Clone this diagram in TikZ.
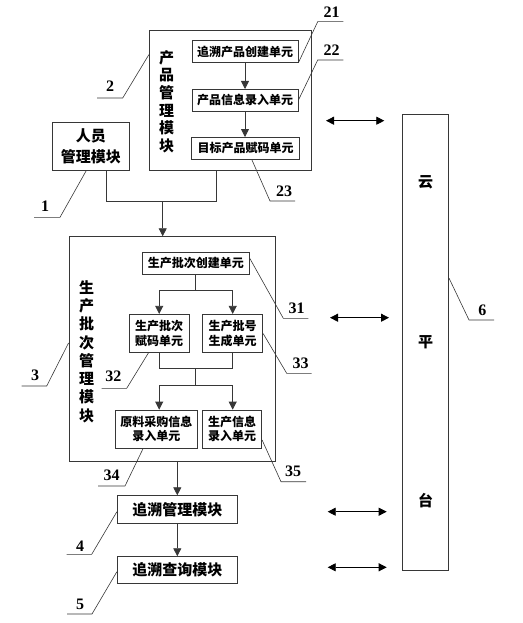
\documentclass[tikz,border=0pt]{standalone}
\usepackage{fontspec}
\newfontfamily\cjk{Noto Sans CJK SC}
\newfontfamily\numf{Liberation Serif}
\usetikzlibrary{arrows.meta}
\definecolor{linec}{RGB}{55,55,55}
\begin{document}
\begin{tikzpicture}[x=1pt,y=-1pt,
  outer/.style={draw=linec, line width=0.8pt, inner sep=0pt, align=center,
    font=\cjk\bfseries\fontsize{15}{21}\selectfont},
  unit/.style={draw=linec, line width=0.8pt, inner sep=0pt, align=center,
    font=\cjk\bfseries\fontsize{12}{14.3}\selectfont},
  vtext/.style={inner sep=0pt, align=center},
  num/.style={inner sep=0pt, font=\numf\bfseries\fontsize{16}{16}\selectfont},
  conn/.style={draw=linec, line width=0.8pt},
  arr/.style={draw=linec, line width=0.8pt, -{Triangle[length=8pt,width=8pt]}},
  darr/.style={draw=black, line width=0.8pt, {Triangle[length=8pt,width=8pt]}-{Triangle[length=8pt,width=8pt]}},
  lead/.style={draw=linec, line width=0.6pt}]
\useasboundingbox (0,0) rectangle (522,623);

% product management module
\node[outer, minimum width=162.4pt, minimum height=140pt] (P2) at (230.5,100) {};
\node[vtext, font=\cjk\bfseries\fontsize{15}{17.6}\selectfont] (P2t) at (166.7,101.5) {产\\品\\管\\理\\模\\块};
\node[unit, minimum width=106pt, minimum height=21.6pt] (u21) at (245,51.5) {追溯产品创建单元};
\node[unit, minimum width=106pt, minimum height=21.6pt] (u22) at (245,100.2) {产品信息录入单元};
\node[unit, minimum width=108pt, minimum height=21.6pt] (u23) at (245.5,148.2) {目标产品赋码单元};
\draw[arr] (u21.south) -- (u21.south |- u22.north);
\draw[arr] (u22.south) -- (u22.south |- u23.north);

% personnel management module
\node[outer, minimum width=77pt, minimum height=48.4pt] (P1) at (90.8,146.5) {人员\\管理模块};

% production batch management module
\node[outer, minimum width=206.7pt, minimum height=224.3pt] (P3) at (172.3,348.8) {};
\node[vtext, font=\cjk\bfseries\fontsize{15}{18.3}\selectfont] (P3t) at (86.7,351.5) {生\\产\\批\\次\\管\\理\\模\\块};
\node[unit, minimum width=107pt, minimum height=21.7pt] (u31) at (195.8,263.2) {生产批次创建单元};
\node[unit, minimum width=59.7pt, minimum height=38.4pt] (u32) at (159.2,333.5) {生产批次\\赋码单元};
\node[unit, minimum width=60pt, minimum height=38.4pt] (u33) at (232.7,333.5) {生产批号\\生成单元};
\node[unit, minimum width=82.7pt, minimum height=38.3pt] (u34) at (156.3,429.2) {原料采购信息\\录入单元};
\node[unit, minimum width=59.4pt, minimum height=38.3pt] (u35) at (232,429.2) {生产信息\\录入单元};

% trace modules
\node[outer, minimum width=120pt, minimum height=27.6pt] (P4) at (177.3,509.5) {追溯管理模块};
\node[outer, minimum width=120pt, minimum height=26.7pt] (P5) at (177.3,570) {追溯查询模块};

% cloud platform
\node[outer, minimum width=46.4pt, minimum height=455.7pt, font=\cjk\bfseries\fontsize{15}{159.5}\selectfont] (C) at (425.5,342.2) {云\\平\\台};

% merge of modules 1 and 2 into 3
\coordinate (jL) at (106.7,201.7);
\coordinate (jM) at (162.7,201.7);
\coordinate (jR) at (216.7,201.7);
\draw[conn] ([xshift=15.9pt]P1.south) -- (jL) -- (jR) -- ([xshift=-13.8pt]P2.south);
\draw[arr] (jM) -- (jM |- P3.north);

% inside module 3
\coordinate (s1) at (195.8,290);
\draw[conn] (u31.south) -- (s1);
\draw[arr] (s1) -| (u32.north);
\draw[arr] (s1) -| (u33.north);
\coordinate (m1) at (195.8,368.3);
\coordinate (m2) at (195.8,385);
\draw[conn] (u32.south) |- (m1) -| (u33.south);
\draw[conn] (m1) -- (m2);
\draw[arr] (m2) -| (u32.south |- u34.north);
\draw[arr] (m2) -| (u33.south |- u35.north);

% module 3 -> 4 -> 5
\draw[arr] (P4.north |- P3.south) -- (P4.north);
\draw[arr] (P4.south) -- (P5.north);

% double arrows to cloud
\coordinate (d1a) at (326,120.7);   \coordinate (d1b) at (384.3,120.7);
\coordinate (d2a) at (330,317.7);   \coordinate (d2b) at (389,317.7);
\coordinate (d3a) at (327.7,511.7); \coordinate (d3b) at (386.7,511.7);
\coordinate (d4a) at (327.7,567.3); \coordinate (d4b) at (386.7,567.3);
\draw[darr] (d1a) -- (d1b);
\draw[darr] (d2a) -- (d2b);
\draw[darr] (d3a) -- (d3b);
\draw[darr] (d4a) -- (d4b);

% reference numerals
\node[num] (n21) at (331.7,12.7) {21};
\coordinate (n21a) at (317.7,21.7); \coordinate (n21b) at (343.3,21.7);
\draw[lead] (n21b) -- (n21a) -- (u21.south east);

\node[num] (n22) at (331.7,50) {22};
\coordinate (n22a) at (317.7,60); \coordinate (n22b) at (343.3,60);
\draw[lead] (n22b) -- (n22a) -- (u22.east);

\node[num] (n23) at (284,191.7) {23};
\coordinate (n23a) at (270,201); \coordinate (n23b) at (295,201);
\draw[lead] (n23b) -- (n23a) -- ([xshift=6.2pt]u23.south);

\node[num] (n2) at (110,86) {2};
\coordinate (n2a) at (97,98); \coordinate (n2b) at (122.7,98);
\draw[lead] (n2a) -- (n2b) -- ([yshift=-25pt]P2.north west);

\node[num] (n1) at (45,206) {1};
\coordinate (n1a) at (34,217.3); \coordinate (n1b) at (60,217.3);
\draw[lead] (n1a) -- (n1b) -- ([xshift=-4.8pt]P1.south);

\node[num] (n3) at (35,375) {3};
\coordinate (n3a) at (21.7,386); \coordinate (n3b) at (46.7,386);
\draw[lead] (n3a) -- (n3b) -- ([yshift=5.8pt]P3.west);

\node[num] (n31) at (296.7,308.3) {31};
\coordinate (n31a) at (283.3,318.3); \coordinate (n31b) at (308.3,318.3);
\draw[lead] (n31b) -- (n31a) -- ([yshift=5pt]u31.east);

\node[num] (n32) at (113.3,376.7) {32};
\coordinate (n32a) at (101.7,388.3); \coordinate (n32b) at (126.7,388.3);
\draw[lead] (n32a) -- (n32b) -- ([xshift=-10.9pt]u32.south);

\node[num] (n33) at (300.7,363.3) {33};
\coordinate (n33a) at (286.7,373.3); \coordinate (n33b) at (311.7,373.3);
\draw[lead] (n33b) -- (n33a) -- (u33.east);

\node[num] (n34) at (111.7,475) {34};
\coordinate (n34a) at (98,486); \coordinate (n34b) at (125,486);
\draw[lead] (n34a) -- (n34b) -- ([xshift=-13.3pt]u34.south);

\node[num] (n35) at (293,471) {35};
\coordinate (n35a) at (281,481.7); \coordinate (n35b) at (306,481.7);
\draw[lead] (n35b) -- (n35a) -- ([yshift=-10.8pt]u35.east);

\node[num] (n4) at (80,546.7) {4};
\coordinate (n4a) at (66.7,554.3); \coordinate (n4b) at (91.7,554.3);
\draw[lead] (n4a) -- (n4b) -- ([yshift=-2.2pt]P4.west);

\node[num] (n5) at (80,604) {5};
\coordinate (n5a) at (67,614); \coordinate (n5b) at (92,614);
\draw[lead] (n5a) -- (n5b) -- ([yshift=-1.7pt]P5.west);

\node[num] (n6) at (482.3,310.7) {6};
\coordinate (n6a) at (469,320); \coordinate (n6b) at (494,320);
\draw[lead] (n6b) -- (n6a) -- ([yshift=63.9pt]C.east);
\end{tikzpicture}
\end{document}
